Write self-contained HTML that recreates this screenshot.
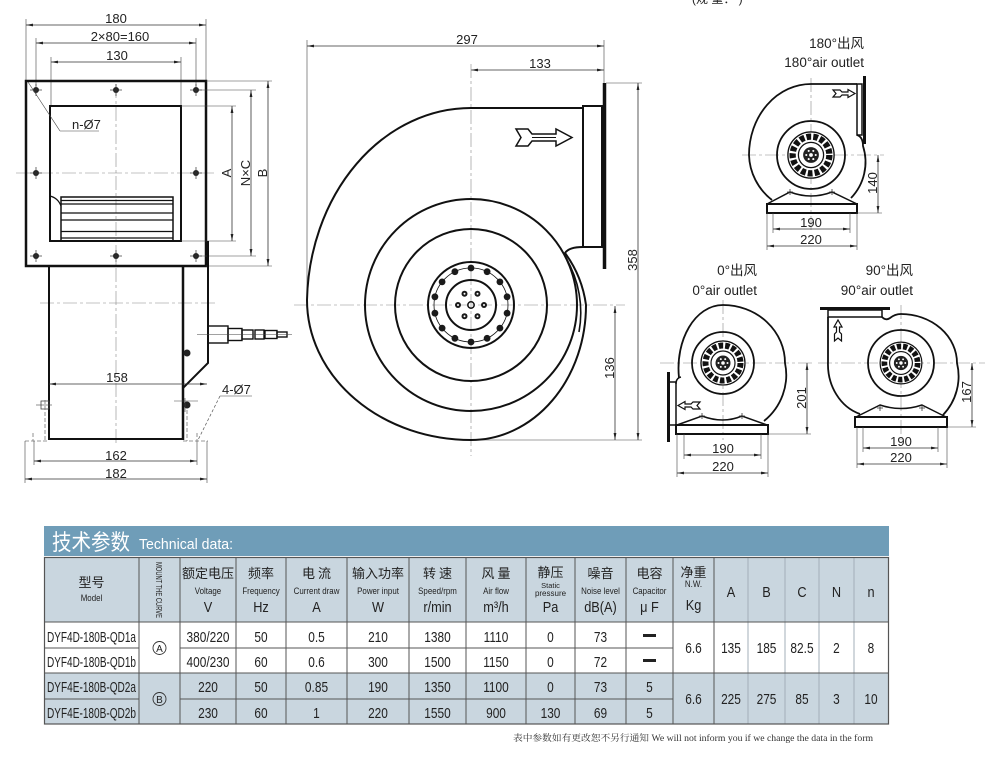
<!DOCTYPE html>
<html><head><meta charset="utf-8">
<style>
html,body{margin:0;padding:0;background:#fff;}
svg{display:block;}
text{font-family:"Liberation Sans","Noto Sans CJK SC",sans-serif;fill:#222;}
.k{stroke:#111;fill:none;}
.dm{stroke:#333;stroke-width:.8;fill:none;marker-start:url(#ar);marker-end:url(#ar);}
.ex{stroke:#444;stroke-width:.6;fill:none;}
.cl{stroke:#888;stroke-width:.6;fill:none;stroke-dasharray:14 3 3 3;}
.t{font-size:13px;}
.v{font-size:13.5px;}
.d{font-size:14.5px;transform-box:fill-box;transform-origin:center;transform:scaleX(.82);}
.hc{font-size:13px;font-family:"Noto Sans CJK SC",sans-serif;}
.he{font-size:9px;transform-box:fill-box;transform-origin:center;transform:scaleX(.88);}
.hu{font-size:15px;transform-box:fill-box;transform-origin:center;transform:scaleX(.85);}
</style></head><body>
<svg width="1000" height="775" viewBox="0 0 1000 775" xmlns="http://www.w3.org/2000/svg">
<defs>
<marker id="ar" viewBox="0 0 10 4" refX="10" refY="2" markerWidth="7" markerHeight="2.8" markerUnits="userSpaceOnUse" orient="auto-start-reverse"><path d="M0 0L10 2L0 4z" fill="#222"/></marker>
<g id="hole"><circle r="3" fill="#222"/><line x1="-6" y1="0" x2="6" y2="0" stroke="#333" stroke-width=".7"/><line x1="0" y1="-6" x2="0" y2="6" stroke="#333" stroke-width=".7"/></g>
<g id="hs">
<circle r="22" fill="#fff" stroke="#111" stroke-width="1.3"/>
<circle r="17.5" fill="none" stroke="#111" stroke-width="6" stroke-dasharray="4.5 2"/>
<circle r="12" fill="#fff" stroke="#111" stroke-width="1.2"/>
<circle r="7.5" fill="#222"/>
<circle r="1.8" fill="#fff"/><circle cx="4.5" cy="0" r="1" fill="#fff"/><circle cx="-4.5" cy="0" r="1" fill="#fff"/><circle cx="2.2" cy="3.9" r="1" fill="#fff"/><circle cx="-2.2" cy="3.9" r="1" fill="#fff"/><circle cx="2.2" cy="-3.9" r="1" fill="#fff"/><circle cx="-2.2" cy="-3.9" r="1" fill="#fff"/>
</g>
</defs>

<text x="692" y="3" font-size="12" fill="#666">(规 重：        )</text>

<!-- ============ LEFT VIEW ============ -->
<line class="ex" x1="26" y1="19" x2="26" y2="81"/>
<line class="ex" x1="206" y1="19" x2="206" y2="81"/>
<line class="ex" x1="36" y1="38" x2="36" y2="86"/>
<line class="ex" x1="196" y1="38" x2="196" y2="86"/>
<line class="ex" x1="51" y1="57" x2="51" y2="106"/>
<line class="ex" x1="181" y1="57" x2="181" y2="106"/>
<line class="dm" x1="26" y1="25" x2="206" y2="25"/>
<text class="t" x="116" y="23" text-anchor="middle">180</text>
<line class="dm" x1="36" y1="43" x2="196" y2="43"/>
<text class="t" x="120" y="41" text-anchor="middle">2×80=160</text>
<line class="dm" x1="51" y1="62" x2="181" y2="62"/>
<text class="t" x="117" y="60" text-anchor="middle">130</text>

<line class="cl" x1="16" y1="173" x2="217" y2="173"/>
<line class="cl" x1="116" y1="84" x2="116" y2="446"/>
<line class="cl" x1="40" y1="303" x2="217" y2="303"/>

<rect class="k" x="26" y="81" width="180" height="185" stroke-width="2.5"/>
<use href="#hole" x="36" y="90"/><use href="#hole" x="116" y="90"/><use href="#hole" x="196" y="90"/>
<use href="#hole" x="36" y="173"/><use href="#hole" x="196" y="173"/>
<use href="#hole" x="36" y="256"/><use href="#hole" x="116" y="256"/><use href="#hole" x="196" y="256"/>
<rect class="k" x="50" y="106" width="131" height="135" stroke-width="2"/>
<rect class="k" x="61" y="197" width="112" height="44" stroke-width="1.5"/>
<g class="k" stroke-width="1.2">
<line x1="61" y1="200.5" x2="173" y2="200.5"/><line x1="61" y1="204" x2="173" y2="204"/>
<line x1="61" y1="213" x2="173" y2="213"/><line x1="61" y1="220" x2="173" y2="220"/>
<line x1="61" y1="231.5" x2="173" y2="231.5"/><line x1="61" y1="238" x2="173" y2="238"/>
<path d="M50 196 Q58 198 61 206"/>
</g>
<line class="ex" x1="28" y1="82" x2="60" y2="131"/>
<line class="ex" x1="60" y1="131" x2="99" y2="131"/>
<text class="t" x="72" y="129">n-Ø7</text>

<line class="ex" x1="206" y1="81" x2="272" y2="81"/>
<line class="ex" x1="199" y1="90" x2="256" y2="90"/>
<line class="ex" x1="181" y1="106" x2="236" y2="106"/>
<line class="ex" x1="181" y1="241" x2="236" y2="241"/>
<line class="ex" x1="199" y1="256" x2="256" y2="256"/>
<line class="ex" x1="206" y1="266" x2="272" y2="266"/>
<line class="dm" x1="232" y1="106" x2="232" y2="241"/>
<line class="dm" x1="251" y1="90" x2="251" y2="256"/>
<line class="dm" x1="268" y1="81" x2="268" y2="266"/>
<text class="t" transform="translate(231,173) rotate(-90)" text-anchor="middle">A</text>
<text class="t" transform="translate(250,173) rotate(-90)" text-anchor="middle">N×C</text>
<text class="t" transform="translate(267,173) rotate(-90)" text-anchor="middle">B</text>

<line class="k" x1="49" y1="266" x2="49" y2="440" stroke-width="2"/>
<line class="k" x1="183" y1="266" x2="183" y2="440" stroke-width="2.5"/>
<line class="k" x1="49" y1="439" x2="183" y2="439" stroke-width="2"/>
<path class="k" d="M208 241 L208 363 L183 388" stroke-width="2"/>
<g class="k" stroke-width="1.4">
<rect x="208" y="326" width="20" height="17"/>
<rect x="228" y="328.5" width="14" height="12"/>
<rect x="242" y="330" width="11" height="9"/>
<rect x="255" y="330" width="9" height="9"/>
<rect x="265" y="330.5" width="12" height="8"/>
<rect x="277" y="332" width="10" height="5"/>
</g>
<line class="ex" x1="197" y1="334.5" x2="292" y2="334.5"/>
<circle cx="187" cy="353" r="3.5" fill="#222"/>
<circle cx="187" cy="405" r="3.5" fill="#222"/>
<line class="ex" x1="174" y1="401" x2="198" y2="401"/>
<line class="ex" x1="185" y1="398" x2="185" y2="412"/>
<rect x="41" y="401" width="8" height="8" fill="none" stroke="#444" stroke-width=".8"/>
<line class="ex" x1="36" y1="405" x2="52" y2="405"/>

<line class="dm" x1="49" y1="384" x2="207" y2="384"/>
<text class="t" x="117" y="382" text-anchor="middle">158</text>
<text class="t" x="222" y="394">4-Ø7</text>
<line class="ex" x1="220" y1="396" x2="252" y2="396"/>
<line x1="220" y1="396" x2="198" y2="440" stroke="#555" stroke-width=".7" stroke-dasharray="3 2"/>
<g stroke="#777" stroke-width=".8" fill="none" stroke-dasharray="4 2">
<path d="M25 441 L49 441 M33 433 L33 441 M45 400 L45 441"/>
<path d="M183 441 L208 441 M197 433 L197 441 M187 410 L187 441"/>
</g>
<line class="ex" x1="34" y1="441" x2="34" y2="465"/>
<line class="ex" x1="197" y1="441" x2="197" y2="465"/>
<line class="ex" x1="25" y1="441" x2="25" y2="483"/>
<line class="ex" x1="207" y1="441" x2="207" y2="483"/>
<line class="dm" x1="34" y1="461" x2="197" y2="461"/>
<text class="t" x="116" y="460" text-anchor="middle">162</text>
<line class="dm" x1="25" y1="479" x2="207" y2="479"/>
<text class="t" x="116" y="478" text-anchor="middle">182</text>

<!-- ============ CENTER VIEW ============ -->
<line class="ex" x1="307" y1="40" x2="307" y2="300"/>
<line class="ex" x1="604" y1="40" x2="604" y2="83"/>
<line class="dm" x1="307" y1="46" x2="604" y2="46"/>
<text class="t" x="467" y="44" text-anchor="middle">297</text>
<line class="dm" x1="471" y1="70" x2="604" y2="70"/>
<text class="t" x="540" y="68" text-anchor="middle">133</text>
<line class="cl" x1="471" y1="64" x2="471" y2="456"/>
<line class="cl" x1="294" y1="305" x2="625" y2="305"/>
<line class="ex" x1="606" y1="83" x2="642" y2="83"/>
<line class="ex" x1="471" y1="440" x2="642" y2="440"/>
<line class="dm" x1="638" y1="83" x2="638" y2="440"/>
<text class="t" transform="translate(637,260) rotate(-90)" text-anchor="middle">358</text>
<line class="dm" x1="615" y1="306" x2="615" y2="440"/>
<text class="t" transform="translate(614,368) rotate(-90)" text-anchor="middle">136</text>

<path class="k" stroke-width="2" d="M583 108 L471 108 A164 197 0 0 0 307 300 A164 140 0 0 0 471 440 A115 135 0 0 0 586 305 A113 113 0 0 0 565 253 Q569 247 583 247"/>
<path class="k" stroke-width="1.6" d="M566 258 A108 108 0 0 1 579 332"/>
<rect class="k" x="583" y="106" width="19" height="141" stroke-width="2"/>
<line class="k" x1="604.5" y1="83" x2="604.5" y2="269" stroke-width="3.5"/>
<path class="k" stroke-width="1.5" fill="#fff" d="M516 129 L528 129 L532 134 L556 134 L556 129 L572 137.5 L556 146 L556 141 L532 141 L528 146 L516 146 L521 137.5 Z"/>
<line class="k" x1="532" y1="137.5" x2="556" y2="137.5" stroke-width="1"/>

<circle class="k" cx="471" cy="305" r="106" stroke-width="2"/>
<circle class="k" cx="471" cy="305" r="76" stroke-width="2"/>
<circle class="k" cx="471" cy="305" r="43" stroke-width="2"/>
<circle class="k" cx="471" cy="305" r="37" stroke-width=".8"/>
<circle class="k" cx="471" cy="305" r="25" stroke-width="2"/>
<g fill="#1a1a1a">
<circle cx="471" cy="268" r="3.4"/><circle cx="487.1" cy="271.7" r="3.4"/><circle cx="499.9" cy="281.9" r="3.4"/><circle cx="507.1" cy="296.8" r="3.4"/><circle cx="507.1" cy="313.2" r="3.4"/><circle cx="499.9" cy="328.1" r="3.4"/><circle cx="487.1" cy="338.3" r="3.4"/><circle cx="471" cy="342" r="3.4"/><circle cx="454.9" cy="338.3" r="3.4"/><circle cx="442.1" cy="328.1" r="3.4"/><circle cx="434.9" cy="313.2" r="3.4"/><circle cx="434.9" cy="296.8" r="3.4"/><circle cx="442.1" cy="281.9" r="3.4"/><circle cx="454.9" cy="271.7" r="3.4"/>
<circle cx="484" cy="305" r="3"/><circle cx="477.5" cy="316.3" r="3"/><circle cx="464.5" cy="316.3" r="3"/><circle cx="458" cy="305" r="3"/><circle cx="464.5" cy="293.7" r="3"/><circle cx="477.5" cy="293.7" r="3"/>
</g>
<g fill="#fff"><circle cx="484" cy="305" r="1"/><circle cx="477.5" cy="316.3" r="1"/><circle cx="464.5" cy="316.3" r="1"/><circle cx="458" cy="305" r="1"/><circle cx="464.5" cy="293.7" r="1"/><circle cx="477.5" cy="293.7" r="1"/></g>
<circle class="k" cx="471" cy="305" r="3.2" stroke-width="1.5"/>

<!-- ============ 180° VIEW ============ -->
<text class="v" x="864" y="48" text-anchor="end">180°出风</text>
<text class="v" x="864" y="67" text-anchor="end">180°air outlet</text>
<line class="cl" x1="742" y1="155" x2="884" y2="155"/>
<line class="cl" x1="811" y1="78" x2="811" y2="232"/>
<path class="k" stroke-width="1.8" d="M857 84 L811 84 A62 71 0 0 0 749 155 A62 60 0 0 0 772 200"/>
<path class="k" stroke-width="1.8" d="M857 135 Q863 137 863 146 A52 52 0 0 1 851 198"/>
<rect class="k" x="857" y="84" width="5" height="51" stroke-width="1.5"/>
<line class="k" x1="864.5" y1="76" x2="864.5" y2="144" stroke-width="3"/>
<path class="k" stroke-width="1.2" fill="#fff" d="M833 90 L840 90 L842 92 L848 92 L848 89.5 L855 93.5 L848 97.5 L848 95 L842 95 L840 97 L833 97 L836 93.5 Z"/>
<circle class="k" cx="811" cy="155" r="34" stroke-width="1.8"/>
<use href="#hs" transform="translate(811,155) scale(1.05)"/>
<path class="k" stroke-width="1.5" fill="#fff" d="M767 204 L790 192 Q811 200 832 192 L857 204 Z"/>
<rect class="k" x="767" y="204" width="90" height="9" stroke-width="2"/>
<path d="M787 192 L793 192 M790 189 L790 195 M829 192 L835 192 M832 189 L832 195" stroke="#333" stroke-width=".8"/>
<line class="ex" x1="857" y1="213" x2="882" y2="213"/>
<line class="dm" x1="878" y1="155" x2="878" y2="213"/>
<text class="t" transform="translate(877,183) rotate(-90)" text-anchor="middle">140</text>
<line class="ex" x1="773" y1="213" x2="773" y2="233"/>
<line class="ex" x1="850" y1="213" x2="850" y2="233"/>
<line class="ex" x1="767" y1="213" x2="767" y2="250"/>
<line class="ex" x1="857" y1="213" x2="857" y2="250"/>
<line class="dm" x1="773" y1="229" x2="850" y2="229"/>
<text class="t" x="811" y="227" text-anchor="middle">190</text>
<line class="dm" x1="767" y1="246" x2="857" y2="246"/>
<text class="t" x="811" y="244" text-anchor="middle">220</text>

<!-- ============ 0° VIEW ============ -->
<text class="v" x="757" y="275" text-anchor="end">0°出风</text>
<text class="v" x="757" y="295" text-anchor="end">0°air outlet</text>
<line class="cl" x1="660" y1="363" x2="812" y2="363"/>
<line class="cl" x1="723" y1="300" x2="723" y2="440"/>
<path class="k" stroke-width="1.8" d="M679 378 C675 340 695 305 723 305 A62 58 0 0 1 785 363 A62 60 0 0 1 764 421"/>
<path class="k" stroke-width="1.5" d="M676 384 Q676 378 681 377"/>
<rect class="k" x="668" y="382" width="8" height="43" stroke-width="1.5"/>
<line class="k" x1="668.5" y1="372" x2="668.5" y2="442" stroke-width="3"/>
<path class="k" stroke-width="1.2" fill="#fff" d="M700 402 L693 402 L691 404 L685 404 L685 401.5 L678 405.5 L685 409.5 L685 407 L691 407 L693 409 L700 409 L697 405.5 Z"/>
<circle class="k" cx="723" cy="363" r="31" stroke-width="1.8"/>
<use href="#hs" transform="translate(723,363)"/>
<path class="k" stroke-width="1.5" fill="#fff" d="M677 425 L702 416 Q723 424 742 416 L767 425 Z"/>
<rect class="k" x="676" y="425" width="92" height="9" stroke-width="2"/>
<path d="M699 416 L705 416 M702 413 L702 419 M739 416 L745 416 M742 413 L742 419" stroke="#333" stroke-width=".8"/>
<line class="ex" x1="768" y1="434" x2="811" y2="434"/>
<line class="dm" x1="807" y1="363" x2="807" y2="434"/>
<text class="t" transform="translate(806,398) rotate(-90)" text-anchor="middle">201</text>
<line class="ex" x1="684" y1="434" x2="684" y2="459"/>
<line class="ex" x1="761" y1="434" x2="761" y2="459"/>
<line class="ex" x1="677" y1="434" x2="677" y2="477"/>
<line class="ex" x1="768" y1="434" x2="768" y2="477"/>
<line class="dm" x1="684" y1="455" x2="761" y2="455"/>
<text class="t" x="723" y="453" text-anchor="middle">190</text>
<line class="dm" x1="677" y1="473" x2="768" y2="473"/>
<text class="t" x="723" y="471" text-anchor="middle">220</text>

<!-- ============ 90° VIEW ============ -->
<text class="v" x="913" y="275" text-anchor="end">90°出风</text>
<text class="v" x="913" y="295" text-anchor="end">90°air outlet</text>
<line class="cl" x1="818" y1="363" x2="985" y2="363"/>
<line class="cl" x1="901" y1="305" x2="901" y2="440"/>
<line class="k" x1="820" y1="308.5" x2="890" y2="308.5" stroke-width="3"/>
<rect class="k" x="828" y="310" width="54" height="7" stroke-width="1.5"/>
<path class="k" stroke-width="1.8" d="M828 317 L828 362 A45 52 0 0 0 860 414"/>
<path class="k" stroke-width="1.8" d="M882 317 Q886 321 890 318 Q895 314 901 314 A56 49 0 0 1 957 363 A56 56 0 0 1 943 415"/>
<path class="k" stroke-width="1.2" fill="#fff" d="M834.5 341 L834.5 334 L836.5 332 L836.5 327 L834 327 L838 320 L842 327 L839.5 327 L839.5 332 L841.5 334 L841.5 341 L838 338 Z"/>
<circle class="k" cx="901" cy="363" r="33" stroke-width="1.8"/>
<use href="#hs" transform="translate(901,363) scale(.95)"/>
<path class="k" stroke-width="1.5" fill="#fff" d="M856 417 L880 405 Q901 412 922 405 L946 417 Z"/>
<rect class="k" x="855" y="417" width="92" height="10" stroke-width="2"/>
<path d="M877 408 L883 408 M880 405 L880 411 M919 408 L925 408 M922 405 L922 411" stroke="#333" stroke-width=".8"/>
<line class="ex" x1="947" y1="427" x2="976" y2="427"/>
<line class="dm" x1="972" y1="363" x2="972" y2="427"/>
<text class="t" transform="translate(971,392) rotate(-90)" text-anchor="middle">167</text>
<line class="ex" x1="863" y1="427" x2="863" y2="452"/>
<line class="ex" x1="938" y1="427" x2="938" y2="452"/>
<line class="ex" x1="857" y1="427" x2="857" y2="468"/>
<line class="ex" x1="947" y1="427" x2="947" y2="468"/>
<line class="dm" x1="863" y1="448" x2="938" y2="448"/>
<text class="t" x="901" y="446" text-anchor="middle">190</text>
<line class="dm" x1="857" y1="464" x2="947" y2="464"/>
<text class="t" x="901" y="462" text-anchor="middle">220</text>

<!-- ============ TABLE ============ -->
<rect x="44" y="526" width="845" height="30" fill="#6f9db8"/>
<text x="52" y="550" font-size="22" textLength="78" lengthAdjust="spacingAndGlyphs" style="fill:#fff;font-family:'Noto Sans CJK SC',sans-serif">技术参数</text>
<text x="139" y="549" font-size="15" textLength="94" lengthAdjust="spacingAndGlyphs" style="fill:#fff">Technical data:</text>

<rect x="44" y="557" width="845" height="65" fill="#c9d6df"/>
<rect x="44" y="622" width="845" height="51" fill="#fff"/>
<rect x="44" y="673" width="845" height="51" fill="#c9d6df"/>

<g stroke="#a3afb8" stroke-width="1">
<line x1="748" y1="557" x2="748" y2="724"/><line x1="785" y1="557" x2="785" y2="724"/>
<line x1="819" y1="557" x2="819" y2="724"/><line x1="854" y1="557" x2="854" y2="724"/>
</g>
<g stroke="#555" stroke-width="1">
<rect x="44.5" y="557.5" width="844" height="166.5" fill="none" stroke-width="1.2"/>
<line x1="44" y1="622" x2="889" y2="622"/>
<line x1="44" y1="673" x2="889" y2="673"/>
<line x1="44" y1="648" x2="139" y2="648"/><line x1="180" y1="648" x2="673" y2="648"/>
<line x1="44" y1="699" x2="139" y2="699"/><line x1="180" y1="699" x2="673" y2="699"/>
<line x1="139" y1="557" x2="139" y2="724"/><line x1="180" y1="557" x2="180" y2="724"/>
<line x1="236" y1="557" x2="236" y2="724"/><line x1="286" y1="557" x2="286" y2="724"/>
<line x1="347" y1="557" x2="347" y2="724"/><line x1="409" y1="557" x2="409" y2="724"/>
<line x1="466" y1="557" x2="466" y2="724"/><line x1="526" y1="557" x2="526" y2="724"/>
<line x1="575" y1="557" x2="575" y2="724"/><line x1="626" y1="557" x2="626" y2="724"/>
<line x1="673" y1="557" x2="673" y2="724"/><line x1="714" y1="557" x2="714" y2="724"/>
</g>

<g text-anchor="middle">
<text class="hc" x="91.5" y="587">型号</text>
<text class="he" x="91.5" y="601">Model</text>
<text x="0" y="0" font-size="8" transform="translate(156,590) rotate(90)" textLength="56" lengthAdjust="spacingAndGlyphs">MOUNT THE CURVE</text>

<text class="hc" x="208" y="578">额定电压</text><text class="he" x="208" y="594">Voltage</text><text class="hu" x="208" y="612">V</text>
<text class="hc" x="261" y="578">频率</text><text class="he" x="261" y="594">Frequency</text><text class="hu" x="261" y="612">Hz</text>
<text class="hc" x="316.5" y="578">电 流</text><text class="he" x="316.5" y="594">Current draw</text><text class="hu" x="316.5" y="612">A</text>
<text class="hc" x="378" y="578">输入功率</text><text class="he" x="378" y="594">Power input</text><text class="hu" x="378" y="612">W</text>
<text class="hc" x="437.5" y="578">转 速</text><text class="he" x="437.5" y="594">Speed/rpm</text><text class="hu" x="437.5" y="612">r/min</text>
<text class="hc" x="496" y="578">风 量</text><text class="he" x="496" y="594">Air flow</text><text class="hu" x="496" y="612">m³/h</text>
<text class="hc" x="550.5" y="577">静压</text><text x="550.5" y="588" font-size="7.5">Static</text><text x="550.5" y="596" font-size="8">pressure</text><text class="hu" x="550.5" y="612">Pa</text>
<text class="hc" x="600.5" y="578">噪音</text><text class="he" x="600.5" y="594">Noise level</text><text class="hu" x="600.5" y="612">dB(A)</text>
<text class="hc" x="649.5" y="578">电容</text><text class="he" x="649.5" y="594">Capacitor</text><text class="hu" x="649.5" y="612">μ F</text>
<text class="hc" x="693.5" y="577">净重</text><text class="he" x="693.5" y="587">N.W.</text><text class="hu" x="693.5" y="610">Kg</text>
<text class="hu" x="731" y="597">A</text><text class="hu" x="766.5" y="597">B</text><text class="hu" x="802" y="597">C</text><text class="hu" x="836.5" y="597">N</text><text class="hu" x="871" y="597">n</text>

<text x="91.5" y="642" font-size="14.5" textLength="89" lengthAdjust="spacingAndGlyphs">DYF4D-180B-QD1a</text>
<text x="91.5" y="667" font-size="14.5" textLength="89" lengthAdjust="spacingAndGlyphs">DYF4D-180B-QD1b</text>
<text x="91.5" y="692" font-size="14.5" textLength="89" lengthAdjust="spacingAndGlyphs">DYF4E-180B-QD2a</text>
<text x="91.5" y="718" font-size="14.5" textLength="89" lengthAdjust="spacingAndGlyphs">DYF4E-180B-QD2b</text>

<text class="d" x="208" y="642">380/220</text><text class="d" x="261" y="642">50</text><text class="d" x="316.5" y="642">0.5</text><text class="d" x="378" y="642">210</text><text class="d" x="437.5" y="642">1380</text><text class="d" x="496" y="642">1110</text><text class="d" x="550.5" y="642">0</text><text class="d" x="600.5" y="642">73</text>
<text class="d" x="208" y="667">400/230</text><text class="d" x="261" y="667">60</text><text class="d" x="316.5" y="667">0.6</text><text class="d" x="378" y="667">300</text><text class="d" x="437.5" y="667">1500</text><text class="d" x="496" y="667">1150</text><text class="d" x="550.5" y="667">0</text><text class="d" x="600.5" y="667">72</text>
<text class="d" x="208" y="692">220</text><text class="d" x="261" y="692">50</text><text class="d" x="316.5" y="692">0.85</text><text class="d" x="378" y="692">190</text><text class="d" x="437.5" y="692">1350</text><text class="d" x="496" y="692">1100</text><text class="d" x="550.5" y="692">0</text><text class="d" x="600.5" y="692">73</text><text class="d" x="649.5" y="692">5</text>
<text class="d" x="208" y="718">230</text><text class="d" x="261" y="718">60</text><text class="d" x="316.5" y="718">1</text><text class="d" x="378" y="718">220</text><text class="d" x="437.5" y="718">1550</text><text class="d" x="496" y="718">900</text><text class="d" x="550.5" y="718">130</text><text class="d" x="600.5" y="718">69</text><text class="d" x="649.5" y="718">5</text>

<text class="d" x="693.5" y="653">6.6</text><text class="d" x="731" y="653">135</text><text class="d" x="766.5" y="653">185</text><text class="d" x="802" y="653">82.5</text><text class="d" x="836.5" y="653">2</text><text class="d" x="871" y="653">8</text>
<text class="d" x="693.5" y="704">6.6</text><text class="d" x="731" y="704">225</text><text class="d" x="766.5" y="704">275</text><text class="d" x="802" y="704">85</text><text class="d" x="836.5" y="704">3</text><text class="d" x="871" y="704">10</text>

<circle cx="159.5" cy="648" r="6.5" fill="none" stroke="#333" stroke-width=".9"/>
<text x="159.5" y="652" font-size="10">A</text>
<circle cx="159.5" cy="699" r="6.5" fill="none" stroke="#333" stroke-width=".9"/>
<text x="159.5" y="703" font-size="10">B</text>
</g>
<rect x="643" y="634" width="13" height="3" fill="#222"/>
<rect x="643" y="659" width="13" height="3" fill="#222"/>

<text x="513" y="741" font-size="9" textLength="360" lengthAdjust="spacingAndGlyphs" style="font-family:'Liberation Serif','Noto Serif CJK SC',serif;fill:#333">表中参数如有更改恕不另行通知 We will not inform you if we change the data in the form</text>
</svg>
</body></html>
